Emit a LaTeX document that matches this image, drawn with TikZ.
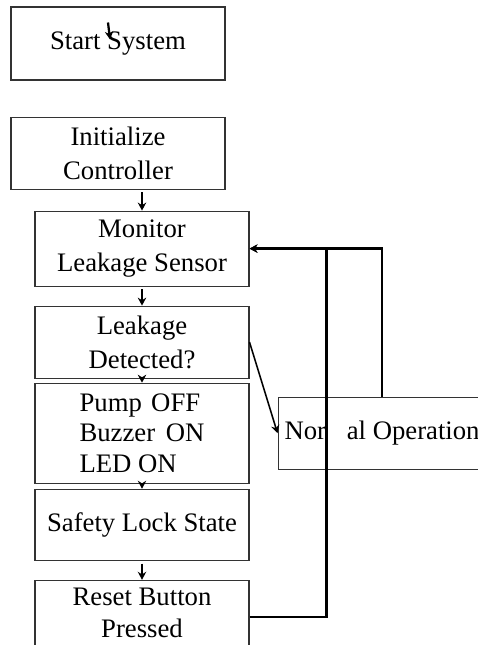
\documentclass[tikz,border=0pt]{standalone}
\usepackage{fontspec}
\setmainfont{Liberation Serif}
\usetikzlibrary{arrows.meta,positioning}

\begin{document}
\begin{tikzpicture}[
box/.style={draw=black!80, line width=0.75pt, minimum width=5.35cm, minimum height=1.8cm, inner sep=0pt, align=center, font=\fontsize{19}{24}\selectfont},
arrow/.style={-{Stealth[length=2mm, width=2.1mm]}, line width=1.6pt, black}
]
\useasboundingbox (0,0) rectangle (11.95,-16.125);
\node[box, minimum height=1.825cm] (start) at (2.95,-1.0875) {Start System};
\node[box, below=0.9cm of start] (init) {Initialize\\Controller};
\node[box, minimum height=1.875cm, below=0.525cm of init, xshift=0.6cm] (monitor) {Monitor\\Leakage Sensor};
\node[box, below=0.475cm of monitor] (leak) {Leakage\\Detected?};
\node[box, minimum height=2.5cm, below=0.1cm of leak, align=left, font=\fontsize{19}{22}\selectfont] (pump) {Pump\hspace{0.35em}OFF\\Buzzer\hspace{0.4em}ON\\LED ON};
\node[box, minimum height=1.775cm, below=0.125cm of pump] (safety) {Safety Lock State};
\node[box, minimum height=1.85cm, below=0.475cm of safety, font=\fontsize{19}{22.5}\selectfont] (reset) {Reset Button\\Pressed\strut};
\node[box, minimum width=5.2cm, right=0.7cm of pump] (normal) {Nor\phantom{m}al Operation};

\coordinate (tipa) at ([xshift=-0.25cm, yshift=-0.4cm]start.north);
\coordinate (tipb) at ([xshift=-0.2cm, yshift=-0.825cm]start.north);
\draw[arrow] (tipa) -- (tipb);
\draw[arrow, shorten <=2pt] (init.south -| monitor.north) -- (monitor.north);
\draw[arrow, shorten <=2pt] (monitor) -- (leak);
\draw[arrow, line width=1pt] (leak) -- (pump);
\draw[arrow, line width=1pt] (pump) -- (safety);
\draw[arrow, shorten <=2pt] (safety) -- (reset);
\draw[arrow, line width=1.1pt] (leak.east) -- (normal.west);
\draw[arrow] (reset.east) -- ++(1.925,0) |- (monitor.east);
\draw[arrow] (normal.north) |- (monitor.east);
\end{tikzpicture}
\end{document}
